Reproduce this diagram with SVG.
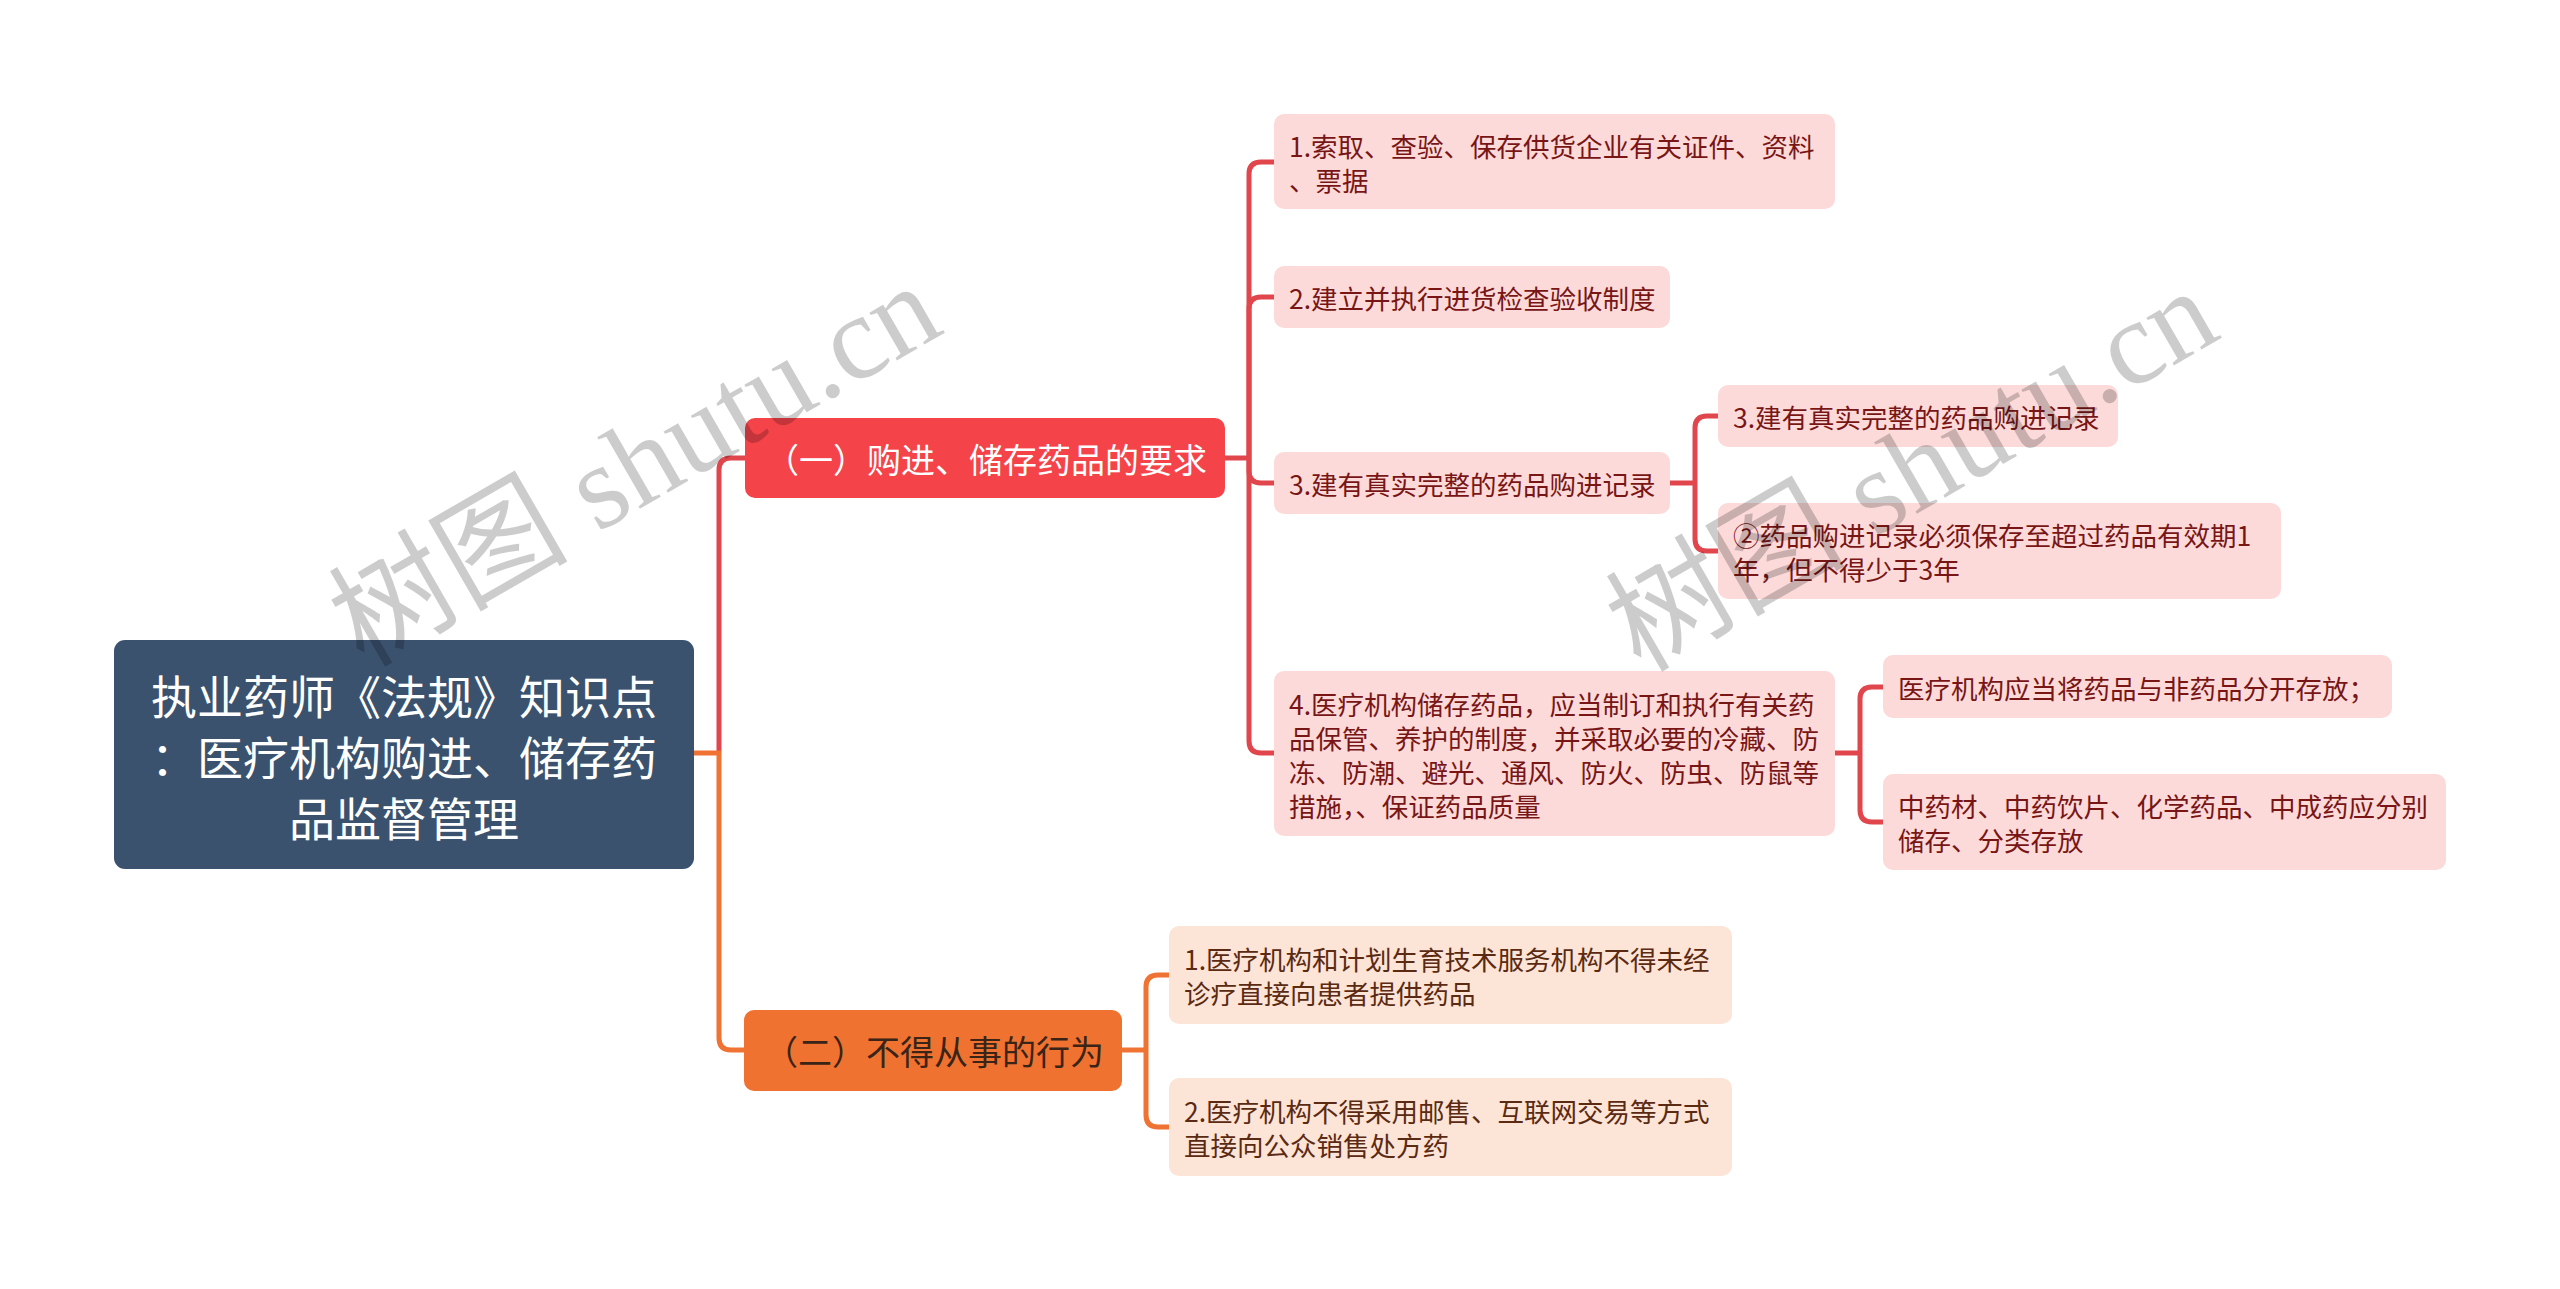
<svg xmlns="http://www.w3.org/2000/svg" width="2560" height="1289" viewBox="0 0 2560 1289">
<style>
.t{font-family:"Noto Sans CJK SC","Noto Sans",sans-serif;dominant-baseline:central}
.root{fill:#3a526e}
.rt{fill:#ffffff;font-size:46px;text-anchor:middle}
.l1a{fill:#f44349}
.l1b{fill:#f07230}
.l1at{fill:#ffffff;font-size:34px;text-anchor:middle}
.l1bt{fill:#3a2418;font-size:34px;text-anchor:middle}
.pk{fill:#fcdada}
.pc{fill:#fce4d6}
.pkt{fill:#781616;font-size:26.5px}
.pct{fill:#5a2a12;font-size:26.5px}
.cr{fill:none;stroke:#e0464c;stroke-width:5}
.co{fill:none;stroke:#ef7332;stroke-width:5}
.wm{font-family:"Liberation Serif","Noto Sans CJK SC",serif;font-size:120px;fill:#000;fill-opacity:0.2}
</style>
<rect width="2560" height="1289" fill="#ffffff"/>
<g id="connectors">
<path class="cr" d="M719,753 V470 Q719,458 731,458 H746"/>
<path class="co" d="M719,753 V1038 Q719,1050 731,1050 H744"/>
<path class="co" d="M693,753 H721"/>
<path class="cr" d="M1224,458 H1249"/>
<path class="cr" d="M1249,458 V174 Q1249,162 1261,162 H1275"/>
<path class="cr" d="M1249,458 V309 Q1249,297 1261,297 H1275"/>
<path class="cr" d="M1249,458 V471 Q1249,483 1261,483 H1275"/>
<path class="cr" d="M1249,458 V741 Q1249,753 1261,753 H1275"/>
<path class="cr" d="M1669,483 H1695"/>
<path class="cr" d="M1695,483 V428 Q1695,416 1707,416 H1719"/>
<path class="cr" d="M1695,483 V539 Q1695,551 1707,551 H1719"/>
<path class="cr" d="M1834,753 H1860"/>
<path class="cr" d="M1860,753 V699 Q1860,687 1872,687 H1884"/>
<path class="cr" d="M1860,753 V810 Q1860,822 1872,822 H1884"/>
<path class="co" d="M1121,1050 H1146"/>
<path class="co" d="M1146,1050 V987 Q1146,975 1158,975 H1170"/>
<path class="co" d="M1146,1050 V1115 Q1146,1127 1158,1127 H1170"/>
</g>
<g id="root">
<rect class="root" x="114" y="640" width="580" height="229" rx="11"/>
<text class="t rt" x="404" y="694">执业药师《法规》知识点</text>
<text class="t rt" x="404" y="755">：医疗机构购进、储存药</text>
<text class="t rt" x="404" y="816">品监督管理</text>
</g>
<g id="nodeA">
<rect class="l1a" x="745" y="418" width="480" height="80" rx="10"/>
<text class="t l1at" x="986" y="458">（一）购进、储存药品的要求</text>
</g>
<g id="nodeB">
<rect class="l1b" x="744" y="1010" width="378" height="81" rx="10"/>
<text class="t l1bt" x="934" y="1050">（二）不得从事的行为</text>
</g>
<g id="a1">
<rect class="pk" x="1274" y="114" width="561" height="95" rx="10"/>
<text class="t pkt" x="1289" y="145">1.索取、查验、保存供货企业有关证件、资料</text>
<text class="t pkt" x="1289" y="179">、票据</text>
</g>
<g id="a2">
<rect class="pk" x="1274" y="266" width="396" height="62" rx="10"/>
<text class="t pkt" x="1289" y="297">2.建立并执行进货检查验收制度</text>
</g>
<g id="a3">
<rect class="pk" x="1274" y="452" width="396" height="62" rx="10"/>
<text class="t pkt" x="1289" y="483">3.建有真实完整的药品购进记录</text>
</g>
<g id="a3a">
<rect class="pk" x="1718" y="385" width="400" height="62" rx="10"/>
<text class="t pkt" x="1733" y="416">3.建有真实完整的药品购进记录</text>
</g>
<g id="a3b">
<rect class="pk" x="1718" y="503" width="563" height="96" rx="10"/>
<text class="t pkt" x="1733" y="534">②药品购进记录必须保存至超过药品有效期1</text>
<text class="t pkt" x="1733" y="568">年，但不得少于3年</text>
</g>
<g id="a4">
<rect class="pk" x="1274" y="671" width="561" height="165" rx="10"/>
<text class="t pkt" x="1289" y="703">4.医疗机构储存药品，应当制订和执行有关药</text>
<text class="t pkt" x="1289" y="737">品保管、养护的制度，并采取必要的冷藏、防</text>
<text class="t pkt" x="1289" y="771">冻、防潮、避光、通风、防火、防虫、防鼠等</text>
<text class="t pkt" x="1289" y="805">措施，、保证药品质量</text>
</g>
<g id="a4a">
<rect class="pk" x="1883" y="655" width="509" height="63" rx="10"/>
<text class="t pkt" x="1898" y="687">医疗机构应当将药品与非药品分开存放；</text>
</g>
<g id="a4b">
<rect class="pk" x="1883" y="774" width="563" height="96" rx="10"/>
<text class="t pkt" x="1898" y="805">中药材、中药饮片、化学药品、中成药应分别</text>
<text class="t pkt" x="1898" y="839">储存、分类存放</text>
</g>
<g id="b1">
<rect class="pc" x="1169" y="926" width="563" height="98" rx="10"/>
<text class="t pct" x="1184" y="958">1.医疗机构和计划生育技术服务机构不得未经</text>
<text class="t pct" x="1184" y="992">诊疗直接向患者提供药品</text>
</g>
<g id="b2">
<rect class="pc" x="1169" y="1078" width="563" height="98" rx="10"/>
<text class="t pct" x="1184" y="1110">2.医疗机构不得采用邮售、互联网交易等方式</text>
<text class="t pct" x="1184" y="1144">直接向公众销售处方药</text>
</g>
<g id="watermarks">
<text class="wm" text-anchor="middle" transform="translate(655,500) rotate(-30)">树图 shutu.cn</text>
<text class="wm" text-anchor="middle" transform="translate(1932,505) rotate(-30)">树图 shutu.cn</text>
</g>
</svg>
